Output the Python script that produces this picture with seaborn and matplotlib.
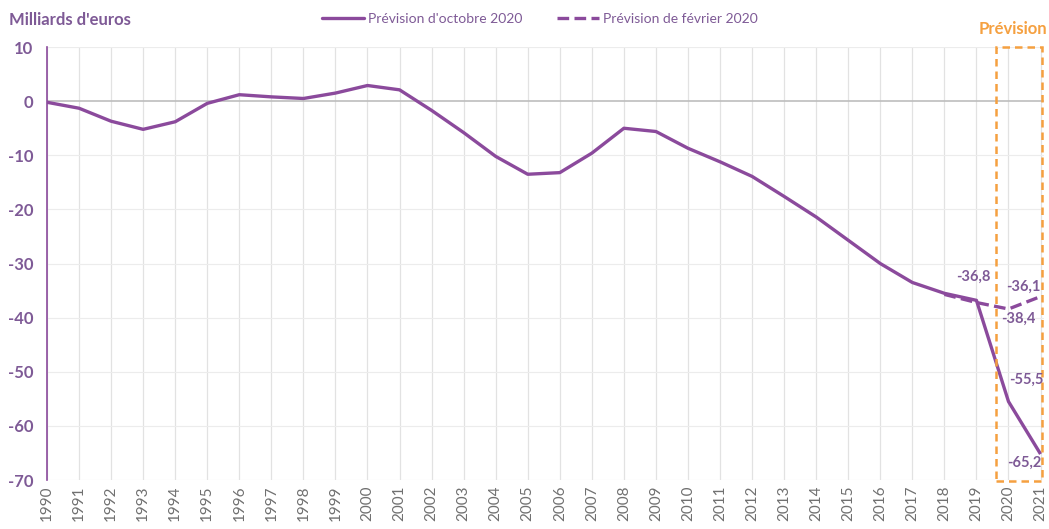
import numpy as np
import pandas as pd
import matplotlib
matplotlib.use("Agg")
import matplotlib.pyplot as plt
import seaborn as sns
from matplotlib.patches import Rectangle
from matplotlib.lines import Line2D

years = list(range(1990, 2022))
octobre = [-0.2, -1.3, -3.7, -5.2, -3.8, -0.4, 1.2, 0.8, 0.5, 1.5, 2.9, 2.1,
           -1.7, -5.8, -10.2, -13.5, -13.2, -9.6, -5.0, -5.6, -8.7, -11.2,
           -13.9, -17.6, -21.4, -25.7, -30.0, -33.5, -35.5, -36.8, -55.5, -65.2]
fevrier_years = [2018, 2019, 2020, 2021]
fevrier = [-35.7, -37.2, -38.4, -36.1]
yticks = [10, 0, -10, -20, -30, -40, -50, -60, -70]
series_names = ["Prévision d'octobre 2020", "Prévision de février 2020"]

purple = "#8b4a9c"
label_purple = "#7e5a96"
orange = "#f5a040"

sns.set_theme(style="white")
plt.rcParams["font.family"] = ["Lato", "DejaVu Sans"]

df = pd.concat([
    pd.DataFrame({"année": years, "valeur": octobre, "série": series_names[0]}),
    pd.DataFrame({"année": fevrier_years, "valeur": fevrier, "série": series_names[1]}),
])

fig = plt.figure(figsize=(10.49, 5.29), dpi=100)
ax = fig.add_axes([0.0448, 0.0926, 0.9502, 0.8184])

for x in years:
    ax.axvline(x, color="#e2e2e2", lw=0.9, zorder=0)
for y in yticks:
    ax.axhline(y, color="#bdbdbd" if y == 0 else "#ececec", lw=1.2 if y == 0 else 0.8, zorder=0)

sns.lineplot(data=df, x="année", y="valeur", hue="série", style="série",
             palette=[purple, purple], dashes=[(1, 0), (3.5, 1.6)],
             lw=2.4, ax=ax, legend=False, zorder=3)

ax.set_xlim(1990, 2021.1)
ax.set_ylim(-70, 10)
ax.set_yticks(yticks)
ax.set_yticklabels([str(v) for v in yticks], color=label_purple, fontsize=12, fontweight="bold")
ax.set_xticks(years)
ax.set_xticklabels([str(v) for v in years], rotation=90, color="#707070", fontsize=11)
ax.set_xlabel("")
ax.set_ylabel("")
for s in ["top", "right", "bottom"]:
    ax.spines[s].set_visible(False)
ax.spines["left"].set_color(purple)
ax.spines["left"].set_linewidth(1.2)
ax.tick_params(axis="y", length=4, color=purple, width=1.2, pad=6)
ax.tick_params(axis="x", length=0, pad=4)

# forecast box
box = Rectangle((2019.6, -70.1), 1.45, 80.1, fill=False, ec=orange, lw=1.8,
                ls=(0, (3, 2)), clip_on=False, zorder=4)
ax.add_patch(box)
fig.text(0.998, 0.945, "Prévision", color=orange, fontsize=12, fontweight="bold",
         ha="right", va="center")

# data labels
lab = dict(color=label_purple, fontsize=10.5, fontweight="bold", zorder=5)
ax.text(2018.9, -32.5, "-36,8", ha="center", va="center", **lab)
ax.text(2021.0, -34.3, "-36,1", ha="right", va="center", **lab)
ax.text(2020.3, -40.3, "-38,4", ha="center", va="center", **lab)
ax.text(2020.55, -51.4, "-55,5", ha="center", va="center", **lab)
ax.text(2020.5, -66.8, "-65,2", ha="center", va="center", **lab)

fig.text(0.009, 0.962, "Milliards d'euros", color=label_purple, fontsize=12,
         fontweight="bold", ha="left", va="center")

# legend
handles = [Line2D([], [], color=purple, lw=2.4),
           Line2D([], [], color=purple, lw=2.4, dashes=(3.5, 1.6))]
fig.legend(handles, series_names, loc="center", bbox_to_anchor=(0.515, 0.965), ncol=2,
           frameon=False, fontsize=10, labelcolor=label_purple, handlelength=3,
           columnspacing=2.5, handletextpad=0.3)

fig.savefig("out.png", dpi=100)
